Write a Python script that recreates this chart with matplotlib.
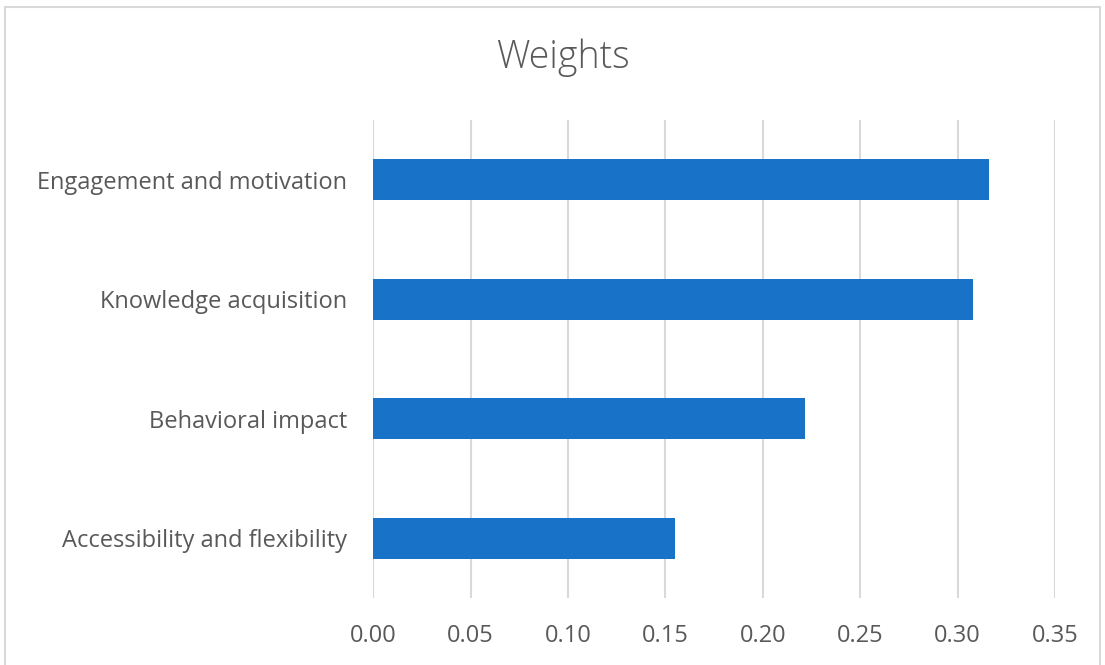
import matplotlib
matplotlib.use("Agg")
import matplotlib.pyplot as plt
from matplotlib.patches import Rectangle

categories = ["Accessibility and flexibility", "Behavioral impact",
              "Knowledge acquisition", "Engagement and motivation"]
weights = [0.155, 0.2215, 0.308, 0.316]
xticks = [0.00, 0.05, 0.10, 0.15, 0.20, 0.25, 0.30, 0.35]

plt.rcParams['font.family'] = ['Open Sans', 'DejaVu Sans']

fig = plt.figure(figsize=(11.05, 6.65), dpi=100)
ax = fig.add_axes([0.3378, 0.1008, 0.9548 - 0.3378, 0.8195 - 0.1008])

# outer chart border
fig.patches.append(Rectangle((5 / 1105, -0.01), (1100 - 5) / 1105, 1 - 7 / 665 + 0.01,
                             transform=fig.transFigure, fill=False,
                             edgecolor='#D9D9D9', linewidth=1.5))

y = range(len(categories))
ax.barh(y, weights, height=0.345, color='#1772C8', zorder=3)

ax.set_xlim(0, 0.35)
ax.set_ylim(-0.5, len(categories) - 0.5)
ax.set_xticks(xticks)
ax.set_xticklabels([f"{t:.2f}" for t in xticks])
ax.set_yticks(list(y))
ax.set_yticklabels(categories)

ax.grid(axis='x', color='#D9D9D9', linewidth=1.5, zorder=0)
ax.grid(axis='y', visible=False)
for s in ax.spines.values():
    s.set_visible(False)

ax.tick_params(axis='x', length=0, pad=19, labelsize=17, labelcolor='#595959')
ax.tick_params(axis='y', length=0, pad=19, labelsize=17, labelcolor='#595959')

fig.text(563 / 1105, 1 - 58 / 665, "Weights", ha='center', va='center',
         fontsize=27, color='#595959', fontweight='light')

fig.savefig("out.png", dpi=100)
